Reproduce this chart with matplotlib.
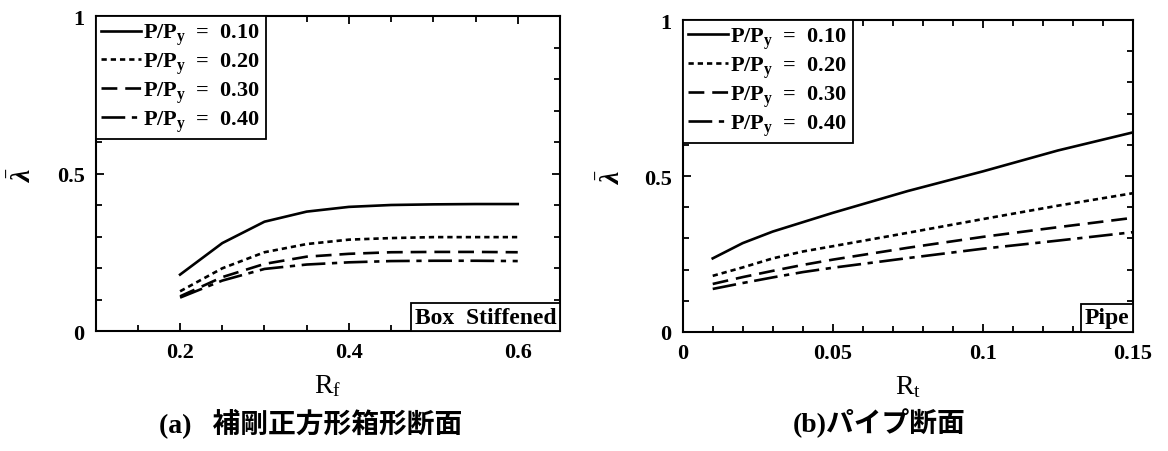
import matplotlib
matplotlib.use('Agg')
import matplotlib.pyplot as plt
from matplotlib.ticker import MultipleLocator, FixedLocator
from matplotlib.offsetbox import AnchoredText

plt.rcParams['font.family'] = ['Liberation Serif', 'Noto Sans CJK JP']
plt.rcParams['font.weight'] = 'bold'
plt.rcParams['mathtext.fontset'] = 'custom'
plt.rcParams['mathtext.rm'] = 'Liberation Serif:weight=normal'
plt.rcParams['mathtext.it'] = 'Liberation Serif:italic'
plt.rcParams['mathtext.bf'] = 'Liberation Serif:bold'

# data
load_labels = ['0.10', '0.20', '0.30', '0.40']

# (a) box stiffened
rf = [0.2, 0.25, 0.3, 0.35, 0.4, 0.45, 0.5, 0.55, 0.6]
box_010 = [0.180, 0.280, 0.348, 0.380, 0.395, 0.401, 0.403, 0.404, 0.404]
box_020 = [0.127, 0.200, 0.251, 0.277, 0.291, 0.296, 0.299, 0.299, 0.299]
box_030 = [0.111, 0.172, 0.214, 0.237, 0.246, 0.251, 0.252, 0.252, 0.251]
box_040 = [0.107, 0.161, 0.198, 0.212, 0.219, 0.223, 0.224, 0.224, 0.223]

# (b) pipe
rt = [0.01, 0.02, 0.03, 0.04, 0.05, 0.075, 0.1, 0.125, 0.15]
pipe_010 = [0.236, 0.285, 0.322, 0.352, 0.382, 0.452, 0.515, 0.582, 0.640]
pipe_020 = [0.180, 0.207, 0.236, 0.258, 0.275, 0.318, 0.362, 0.405, 0.445]
pipe_030 = [0.154, 0.176, 0.196, 0.215, 0.232, 0.270, 0.305, 0.336, 0.366]
pipe_040 = [0.138, 0.157, 0.175, 0.192, 0.206, 0.237, 0.267, 0.293, 0.320]

styles = ['-', (0, (2, 1.5)), (0, (6, 3)), (0, (9, 2.5, 2, 2.5))]

fig = plt.figure(figsize=(11.68, 4.52), dpi=100)
ax1 = fig.add_axes([0.0819, 0.2648, 0.3975, 0.6969])
ax2 = fig.add_axes([0.5845, 0.2633, 0.3855, 0.690])


def style_axes(ax):
    for s in ax.spines.values():
        s.set_linewidth(1.5)
    ax.tick_params(which='both', direction='in', top=True, right=True,
                   width=1.3, labelsize=16, pad=8)
    ax.tick_params(which='major', length=6)
    ax.tick_params(which='minor', length=4)
    ax.set_ylim(0, 1)
    ax.yaxis.set_major_locator(FixedLocator([0, 0.5, 1]))
    ax.set_yticklabels(['0', '0.5', '1'])
    ax.yaxis.set_minor_locator(MultipleLocator(0.1))
    ax.set_ylabel(r'$\bar{\lambda}$', fontsize=20)
    ax.yaxis.set_label_coords(-0.126, 0.5)


for ax, xs, ys in [(ax1, rf, [box_010, box_020, box_030, box_040]),
                   (ax2, rt, [pipe_010, pipe_020, pipe_030, pipe_040])]:
    for y, ls, lab in zip(ys, styles, load_labels):
        ax.plot(xs, y, color='black', linestyle=ls, linewidth=1.9,
                label=r'P/P$_\mathbf{y}$  =  ' + lab)
    style_axes(ax)
    leg = ax.legend(loc='upper left', borderaxespad=0, fancybox=False,
                    edgecolor='black', framealpha=1, fontsize=16,
                    handlelength=1.8, handletextpad=0.1, labelspacing=0.15,
                    borderpad=0.25)
    leg.get_frame().set_linewidth(1.3)

ax1.set_xlim(0.1, 0.65)
ax1.xaxis.set_major_locator(FixedLocator([0.2, 0.4, 0.6]))
ax1.set_xticklabels(['0.2', '0.4', '0.6'])
ax1.xaxis.set_minor_locator(MultipleLocator(0.05))
ax1.set_xlabel(r'R$_\mathrm{f}$', fontsize=20, fontweight='normal', labelpad=7)

ax2.set_xlim(0, 0.15)
ax2.xaxis.set_major_locator(FixedLocator([0, 0.05, 0.1, 0.15]))
ax2.set_xticklabels(['0', '0.05', '0.1', '0.15'])
ax2.xaxis.set_minor_locator(MultipleLocator(0.01))
ax2.set_xlabel(r'R$_\mathrm{t}$', fontsize=20, fontweight='normal', labelpad=7)

for ax, name in [(ax1, 'Box  Stiffened'), (ax2, 'Pipe')]:
    at = AnchoredText(name, loc='lower right', borderpad=0, pad=0.15,
                      prop=dict(size=17), frameon=True)
    at.patch.set_boxstyle('square,pad=0')
    at.patch.set_linewidth(1.3)
    ax.add_artist(at)

fig.text(0.266, 0.03, '(a)   補剛正方形箱形断面', ha='center', va='bottom',
         fontsize=20, fontweight='bold')
fig.text(0.753, 0.03, '(b)パイプ断面', ha='center', va='bottom',
         fontsize=20, fontweight='bold')

fig.savefig('out.png', dpi=100)
